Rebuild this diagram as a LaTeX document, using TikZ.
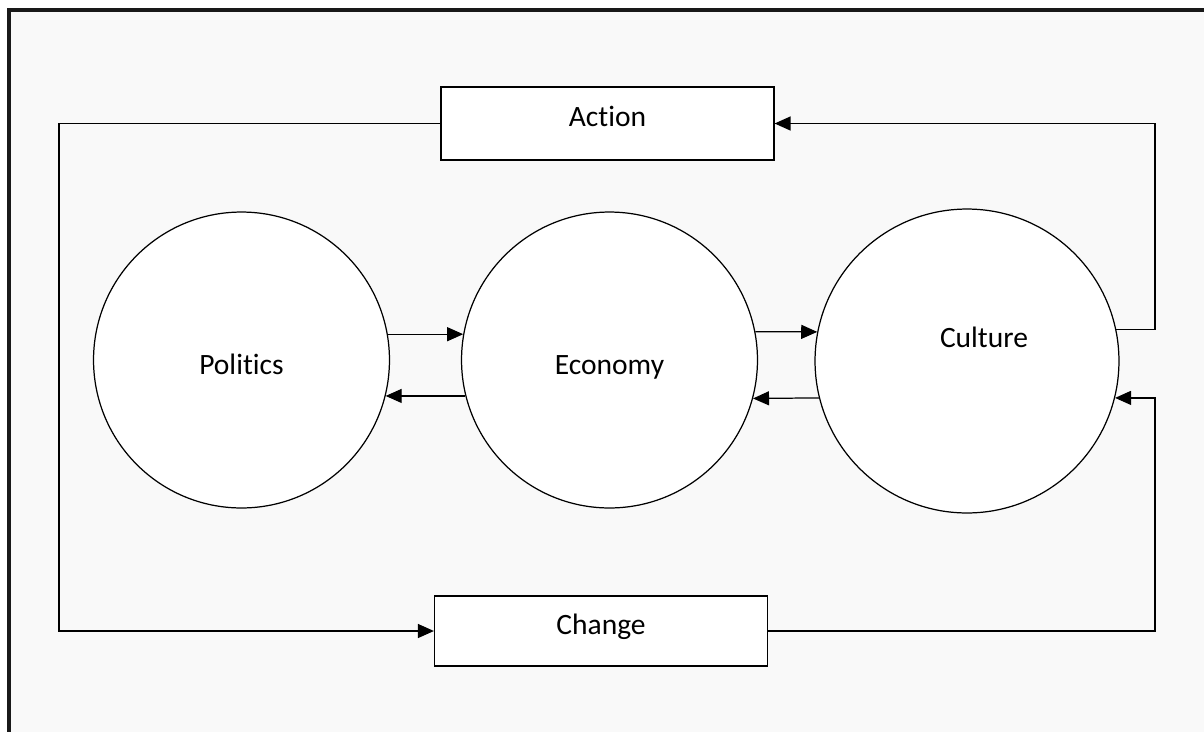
\documentclass[tikz,border=0pt]{standalone}
\usepackage{fontspec}
\setmainfont{Carlito}[Ligatures=NoCommon]
\usepackage{tikz}
\usetikzlibrary{calc, arrows.meta, shapes}
\definecolor{sheet}{HTML}{F9F9F9}
\tikzset{>={Triangle[length=0.32cm,width=0.28cm]}}
\tikzset{
  sphere/.style={circle, draw, fill=white, line width=0.7pt, inner sep=0pt, text height=0.56cm, text depth=0pt},
  stepbox/.style={rectangle, draw, fill=white, line width=0.7pt, minimum width=6.66cm, minimum height=1.46cm, text height=0.36cm, text depth=0.24cm},
  link/.style={line width=0.7pt}
}

\begin{document}
\begin{tikzpicture}[x=0.02cm, y=-0.02cm, font=\fontsize{16.8}{20}\selectfont]
\useasboundingbox (0,0) rectangle (1204,731);
\fill[white] (0,0) rectangle (1204,731);
\begin{scope}
\clip (0,0) rectangle (1204,731);
\filldraw[fill=sheet, draw=black!90, line width=2.2pt] (9,10) rectangle (1230,760);
\end{scope}

% the three spheres
\node[sphere, minimum size=5.92cm] (pol) at (241.5,360) {Politics};
\node[sphere, minimum size=5.92cm] (eco) at (609.5,360) {Economy};
\node[sphere, minimum size=6.08cm, label={[xshift=0.34cm, yshift=0.48cm]center:Culture}] (cult) at (967,361) {};

% action and change
\node[stepbox] (act) at (607.5,123.5) {Action};
\node[stepbox, minimum height=1.40cm] (chg) at (601,631) {Change};

\coordinate (lx) at (59,360);
\coordinate (rx) at (1155,360);

% between the spheres
\draw[link, ->] (pol.10) -- (eco.170);
\draw[link, ->] (eco.194) -- (pol.-14);
\draw[link, ->] (eco.11) -- (cult.169);
\draw[link, ->] (cult.194) -- (eco.-15);

% feedback loops
\draw[link, ->] (cult.12) -| (rx |- act.east) -- (act.east);
\draw[link, ->] (chg.east) -| (rx |- cult.-14) -- (cult.-14);
\draw[link, ->] (act.west) -| (lx |- chg.west) -- (chg.west);
\end{tikzpicture}
\end{document}
